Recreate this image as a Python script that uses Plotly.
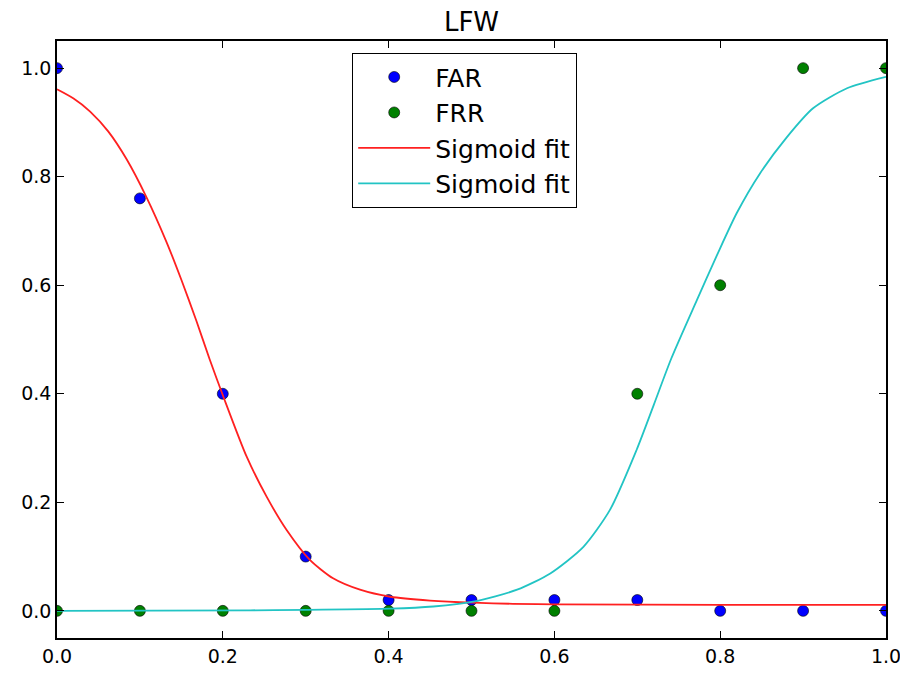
import plotly.graph_objects as go

# Measured data points
x_pts = [0.0, 0.1, 0.2, 0.3, 0.4, 0.5, 0.6, 0.7, 0.8, 0.9, 1.0]
far = [1.0, 0.76, 0.4, 0.1, 0.02, 0.02, 0.02, 0.02, 0.0, 0.0, 0.0]
frr = [0.0, 0.0, 0.0, 0.0, 0.0, 0.0, 0.0, 0.4, 0.6, 1.0, 1.0]

# Sigmoid fit curves
far_fit_x = [0.0, 0.02, 0.04, 0.062, 0.084, 0.108, 0.132, 0.150, 0.168, 0.184,
             0.2006, 0.2288, 0.253, 0.277, 0.305, 0.333, 0.3655, 0.402, 0.450,
             0.502, 0.55, 0.6, 0.8, 1.0]
far_fit_y = [0.961, 0.944, 0.920, 0.883, 0.832, 0.762, 0.680, 0.610, 0.535, 0.464,
             0.395, 0.284, 0.210, 0.149, 0.094, 0.060, 0.039, 0.026, 0.019,
             0.015, 0.013, 0.012, 0.011, 0.011]

frr_fit_x = [0.0, 0.233, 0.3, 0.402, 0.454, 0.502, 0.555, 0.595, 0.635, 0.667,
             0.699, 0.72, 0.741, 0.772, 0.796, 0.820, 0.848, 0.880, 0.912, 0.953, 1.0]
frr_fit_y = [0.0, 0.001, 0.002, 0.004, 0.008, 0.017, 0.039, 0.069, 0.118, 0.186,
             0.296, 0.38, 0.465, 0.573, 0.655, 0.733, 0.806, 0.872, 0.926, 0.963, 0.984]

x_ticks = [0.0, 0.2, 0.4, 0.6, 0.8, 1.0]
y_ticks = [0.0, 0.2, 0.4, 0.6, 0.8, 1.0]

FONT = "DejaVu Sans"

fig = go.Figure()
fig.add_trace(go.Scatter(x=x_pts, y=far, mode="markers", name="FAR", legendgroup="a",
                         marker=dict(color="#0000ff", size=11, line=dict(color="black", width=0.6))))
fig.add_trace(go.Scatter(x=x_pts, y=frr, mode="markers", name="FRR", legendgroup="b",
                         marker=dict(color="#008000", size=11, line=dict(color="black", width=0.6))))
fig.add_trace(go.Scatter(x=far_fit_x, y=far_fit_y, mode="lines", name="Sigmoid fit", legendgroup="c",
                         line=dict(color="#ff2020", width=1.8, shape="spline", smoothing=0.7)))
fig.add_trace(go.Scatter(x=frr_fit_x, y=frr_fit_y, mode="lines", name="Sigmoid fit", legendgroup="d",
                         line=dict(color="#22c4c4", width=1.8, shape="spline", smoothing=0.7)))

axis_common = dict(showline=True, linecolor="black", linewidth=1.5, mirror="ticks",
                   ticks="inside", ticklen=7, tickwidth=1, tickcolor="black",
                   showgrid=False, zeroline=False, automargin=False,
                   tickfont=dict(family=FONT, size=19, color="black"), tickformat=".1f")

fig.update_xaxes(range=[0, 1], tickvals=x_ticks, **axis_common)
fig.update_yaxes(range=[-0.05, 1.05], tickvals=y_ticks, **axis_common)

# page body has an 8px margin, so the figure is 8px smaller and margins compensate
fig.update_layout(
    width=900, height=668,
    margin=dict(l=49, r=22, t=33, b=38, autoexpand=False),
    paper_bgcolor="white",
    plot_bgcolor="white",
    title=dict(text="LFW", x=0.5, xref="paper", xanchor="center",
               y=(668 - 14) / 668, yref="container", yanchor="middle",
               font=dict(family=FONT, size=26, color="black")),
    showlegend=True,
    legend=dict(x=(352 - 57) / 829, y=(638 - 53) / 597, xanchor="left", yanchor="top",
                bgcolor="white", bordercolor="black", borderwidth=1.2,
                font=dict(family=FONT, size=25, color="black"),
                traceorder="grouped", tracegroupgap=0, itemwidth=72),
)

fig.write_html("out.html")
